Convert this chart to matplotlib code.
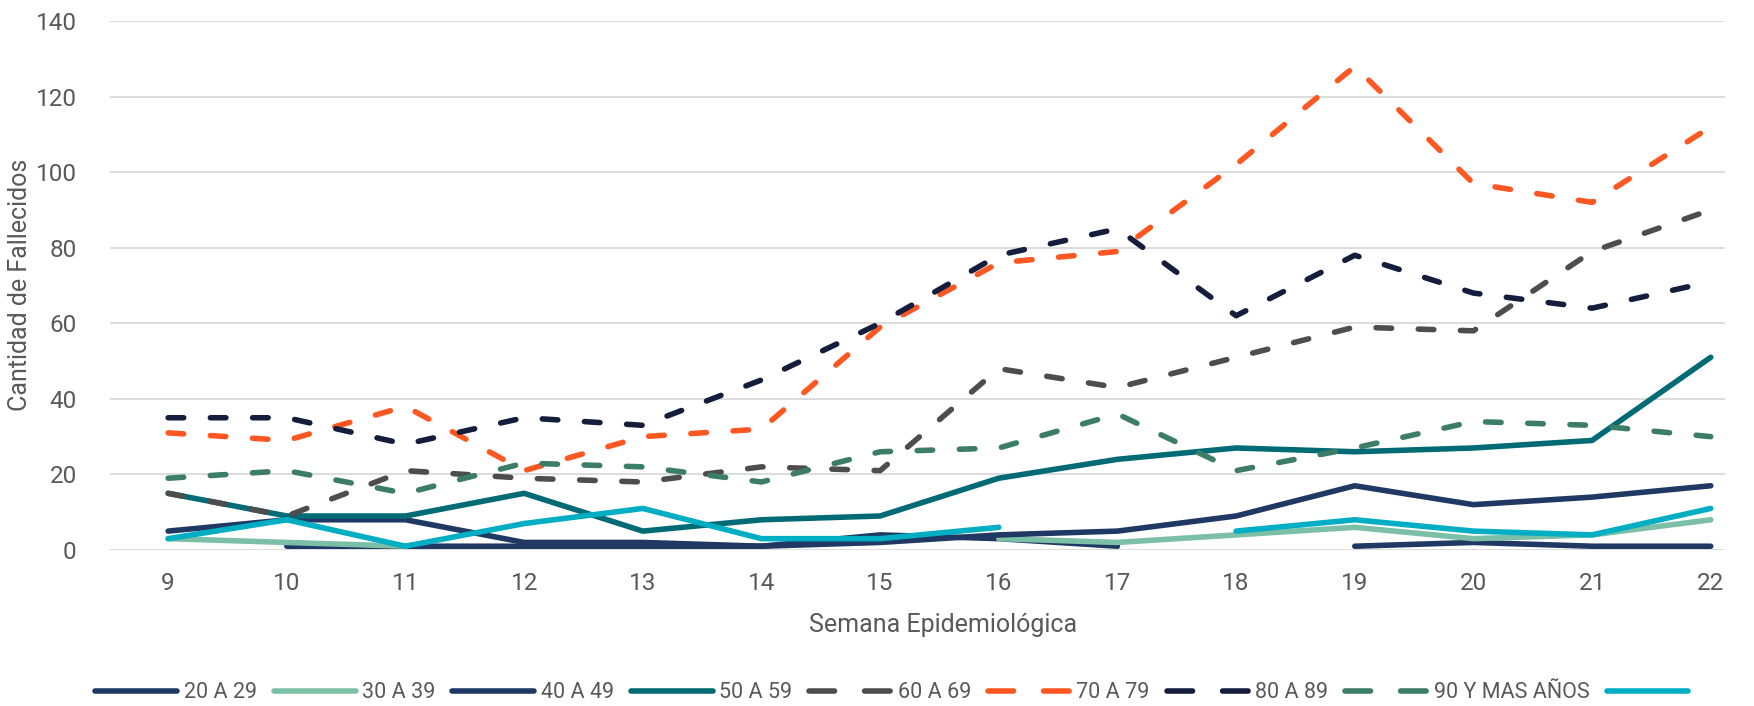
import numpy as np
import matplotlib
matplotlib.use("Agg")
import matplotlib.pyplot as plt
from matplotlib.lines import Line2D

nan = np.nan
weeks = list(range(9, 23))
week_labels = [str(w) for w in weeks]

s20_29 = [nan, 1, 1, 1, 1, 1, 4, 3, 1, nan, 1, 2, 1, 1]
s30_39 = [3, 2, 1, nan, nan, nan, nan, 3, 2, 4, 6, 3, 4, 8]
s40_49 = [5, 8, 8, 2, 2, 1, 2, 4, 5, 9, 17, 12, 14, 17]
s50_59 = [15, 9, 9, 15, 5, 8, 9, 19, 24, 27, 26, 27, 29, 51]
s60_69 = [15, 9, 21, 19, 18, 22, 21, 48, 43, 51, 59, 58, 79, 90]
s70_79 = [31, 29, 38, 21, 30, 32, 59, 76, 79, 102, 128, 97, 92, 112]
s80_89 = [35, 35, 28, 35, 33, 45, 60, 78, 85, 62, 78, 68, 64, 71]
s90 = [19, 21, 15, 23, 22, 18, 26, 27, 36, 21, 27, 34, 33, 30]
s_extra = [3, 8, 1, 7, 11, 3, 3, 6, nan, 5, 8, 5, 4, 11]

labels = ["20 A 29", "30 A 39", "40 A 49", "50 A 59", "60 A 69",
          "70 A 79", "80 A 89", "90 Y MAS AÑOS", ""]
series = [s20_29, s30_39, s40_49, s50_59, s60_69, s70_79, s80_89, s90, s_extra]
colors = ["#1F3864", "#7BBFA6", "#1F3864", "#006B75", "#4D4D4D",
          "#FF5722", "#141E3C", "#3C7D68", "#00AEC4"]
dashed = [False, False, False, False, True, True, True, True, False]

plt.rcParams['font.family'] = ['Roboto', 'DejaVu Sans']
TXT = '#595959'
FS_TICK = 17.5
FS_TITLE = 18
FS_LEG = 15.5

fig = plt.figure(figsize=(17.54, 7.06), dpi=100)
L, R, T, B = 110, 1725, 21, 550
ax = fig.add_axes([L / 1754, 1 - B / 706, (R - L) / 1754, (B - T) / 706])

handles = []
for vals, lab, col, d in zip(series, labels, colors, dashed):
    y = np.array(vals, dtype=float)
    if d:
        ln, = ax.plot(weeks, y, color=col, lw=4, dash_capstyle='round',
                      solid_joinstyle='round', dash_joinstyle='round')
        ln.set_dashes((2.8, 4.8))
        h = Line2D([], [], color=col, lw=4, dash_capstyle='round')
        h.set_dashes((4.6, 5.4))
    else:
        ln, = ax.plot(weeks, y, color=col, lw=4, solid_capstyle='round',
                      solid_joinstyle='round')
        h = Line2D([], [], color=col, lw=4, solid_capstyle='round')
    handles.append(h)

ax.set_xlim(8.51, 22.12)
ax.set_ylim(0, 140)
ax.set_yticks(range(0, 141, 20))
ax.set_xticks(weeks)
ax.set_xticklabels(week_labels)
ax.grid(axis='y', color='#D9D9D9', lw=1.3)
ax.set_axisbelow(True)
for sp in ax.spines.values():
    sp.set_visible(False)
ax.tick_params(axis='both', length=0, labelsize=FS_TICK, labelcolor=TXT)
ax.tick_params(axis='y', pad=24)
ax.tick_params(axis='x', pad=16)

fig.text(20 / 1754, 1 - 285 / 706, "Cantidad de Fallecidos", rotation=90,
         ha='center', va='center', fontsize=FS_TITLE, color=TXT)
fig.text(943 / 1754, 1 - 625 / 706, "Semana Epidemiológica",
         ha='center', va='center', fontsize=FS_TITLE, color=TXT)

fig.legend(handles, labels, loc='center', bbox_to_anchor=(895 / 1754, 1 - 693 / 706),
           ncol=9, frameon=False, fontsize=FS_LEG, labelcolor=TXT,
           handlelength=3.8, handletextpad=0.3, columnspacing=0.8)

fig.savefig("out.png", dpi=100, facecolor='white')
